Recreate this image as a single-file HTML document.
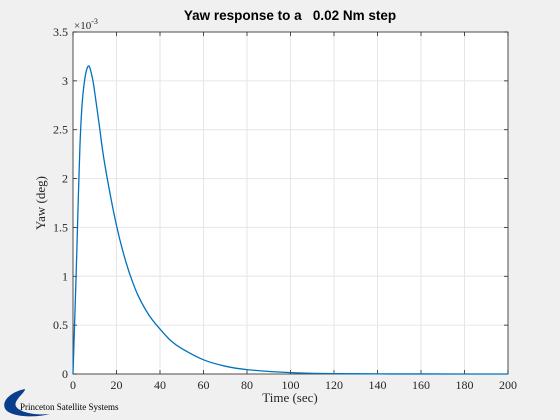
<!DOCTYPE html>
<html><head><meta charset="utf-8"><style>
body{margin:0;background:#f0f0f0;}
svg{display:block;}
</style></head><body>
<svg id="chart" width="560" height="420" xmlns="http://www.w3.org/2000/svg">
<rect x="0" y="0" width="560" height="420" fill="#f0f0f0"/>
<rect x="73" y="32" width="435" height="342" fill="#fff"/>
<g id="grid"></g>
<g id="axes"></g>
<path id="line" fill="none" stroke="#0072bd" stroke-width="1.3"/>
<text x="290" y="20" text-anchor="middle" font-family="Liberation Sans, sans-serif" font-weight="bold" font-size="13.5" fill="#000" xml:space="preserve">Yaw response to a   0.02 Nm step</text>
<text x="290" y="402" text-anchor="middle" font-family="Liberation Serif, serif" font-size="13" fill="#262626">Time (sec)</text>
<text transform="translate(45,203) rotate(-90)" text-anchor="middle" font-family="Liberation Serif, serif" font-size="13" fill="#262626">Yaw (deg)</text>
<text x="74" y="29" font-family="Liberation Serif, serif" font-size="11" fill="#262626">×10<tspan dy="-5" font-size="8">-3</tspan></text>
<g>
<path d="M25,389 C10,392 0,402 6,410 C12,417 35,418 50,414 C30,416 12,410 16,402 C19,396 25,392 25,389 Z" fill="#0a3d8a"/>
<text x="20" y="410" font-family="Liberation Serif, serif" font-size="9" fill="#000">Princeton Satellite Systems</text>
</g>
</svg>
<script>
const xTicks=[0,20,40,60,80,100,120,140,160,180,200];
const yTicks=[0,0.5,1,1.5,2,2.5,3,3.5];
const yTickLabels=["0","0.5","1","1.5","2","2.5","3","3.5"];
const timeSec=[0,1,1.7,2.5,3.2,4,4.8,6,7.4,9,10,12,14,17,20,23,26.3,30,35,40,45,50,60,70,80,100,120,140,160,200];
const yawMilliDeg=[0,0.7,1.21,1.85,2.34,2.7,2.91,3.09,3.15,3.02,2.88,2.56,2.23,1.85,1.52,1.25,1.01,0.8,0.6,0.46,0.34,0.26,0.145,0.08,0.045,0.014,0.004,0.0013,0.0004,0];
const X0=73,X1=508,Y0=374,Y1=32;
const sx=v=>X0+(v-0)/(200-0)*(X1-X0);
const sy=v=>Y0-(v-0)/(3.5-0)*(Y0-Y1);
const NS="http://www.w3.org/2000/svg";
const grid=document.getElementById('grid'),axes=document.getElementById('axes');
function mk(tag,attrs,parent){const e=document.createElementNS(NS,tag);for(const k in attrs)e.setAttribute(k,attrs[k]);parent.appendChild(e);return e;}
xTicks.forEach(t=>{
  const g=mk('line',{x1:sx(t),x2:sx(t),y1:Y1,y2:Y0,stroke:'#e6e6e6','stroke-width':1},grid);
  
  
  const tk=mk('line',{x1:sx(t),x2:sx(t),y1:Y0,y2:Y0-4,stroke:'#262626','stroke-width':0.8},axes);
  
  
  const tk2=mk('line',{x1:sx(t),x2:sx(t),y1:Y1,y2:Y1+4,stroke:'#262626','stroke-width':0.8},axes);
  
  
  const l=mk('text',{x:sx(t),y:Y0+15,'text-anchor':'middle','font-family':'Liberation Serif, serif','font-size':12,fill:'#262626'},axes);
  l.textContent=t;
  
  
});
yTicks.forEach((t,i)=>{
  const g=mk('line',{x1:X0,x2:X1,y1:sy(t),y2:sy(t),stroke:'#e6e6e6','stroke-width':1},grid);
  
  
  const tk=mk('line',{x1:X0,x2:X0+4,y1:sy(t),y2:sy(t),stroke:'#262626','stroke-width':0.8},axes);
  
  
  const tk2=mk('line',{x1:X1,x2:X1-4,y1:sy(t),y2:sy(t),stroke:'#262626','stroke-width':0.8},axes);
  
  
  const l=mk('text',{x:X0-5,y:sy(t)+4,'text-anchor':'end','font-family':'Liberation Serif, serif','font-size':12,fill:'#262626'},axes);
  l.textContent=yTickLabels[i];
  
  
});
const box=mk('rect',{x:X0,y:Y1,width:X1-X0,height:Y0-Y1,fill:'none',stroke:'#262626','stroke-width':0.8},axes);


const P=timeSec.map((t,i)=>[sx(t),sy(yawMilliDeg[i])]);
let d='M'+P[0][0].toFixed(2)+','+P[0][1].toFixed(2);
for(let i=0;i<P.length-1;i++){
  const p0=P[Math.max(0,i-1)],p1=P[i],p2=P[i+1],p3=P[Math.min(P.length-1,i+2)];
  const c1=[p1[0]+(p2[0]-p0[0])/6,p1[1]+(p2[1]-p0[1])/6];
  const c2=[p2[0]-(p3[0]-p1[0])/6,p2[1]-(p3[1]-p1[1])/6];
  d+='C'+c1[0].toFixed(2)+','+c1[1].toFixed(2)+' '+c2[0].toFixed(2)+','+c2[1].toFixed(2)+' '+p2[0].toFixed(2)+','+p2[1].toFixed(2);
}
document.getElementById('line').setAttribute('d',d);
</script>
</body></html>
